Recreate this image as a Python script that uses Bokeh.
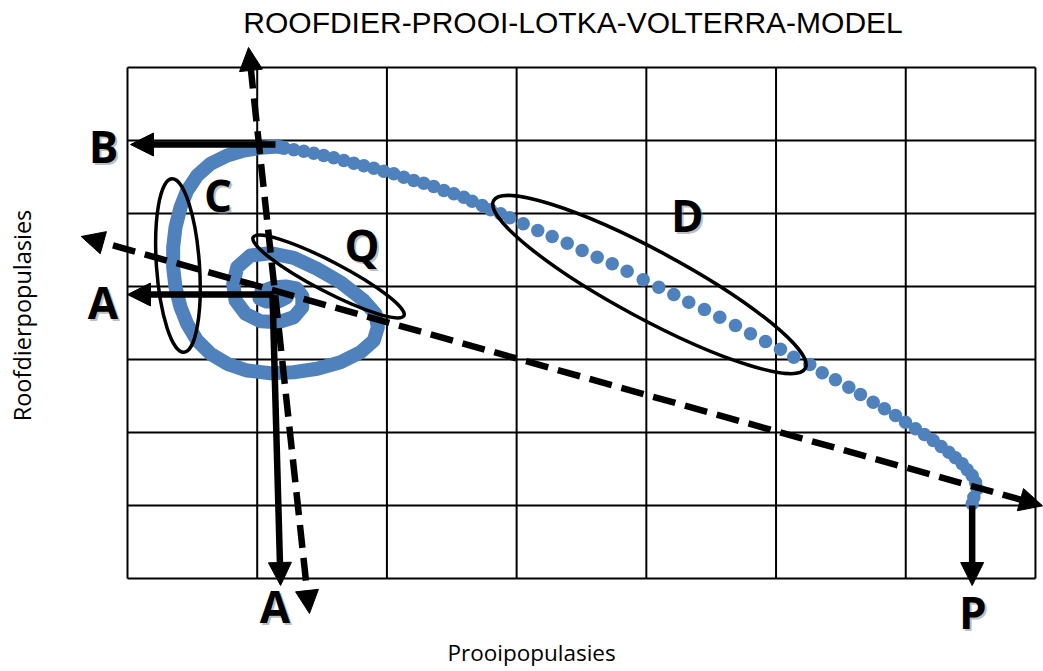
import math
from bokeh.plotting import figure
from bokeh.models import Range1d, Arrow, NormalHead
from bokeh.core.properties import value
from bokeh.embed import file_html
from bokeh.resources import INLINE

# ---------------- data ----------------
title_text = "ROOFDIER-PROOI-LOTKA-VOLTERRA-MODEL"
x_label = "Prooipopulasies"
y_label = "Roofdierpopulasies"

# 7 x 7 grid, 10 units per cell
grid_ticks = [0, 10, 20, 30, 40, 50, 60, 70]

# sparse (dotted) part of the trajectory, starting at P
dots_prey = [65.12, 65.25, 65.51, 65.38, 65.12, 64.74, 64.35, 63.83, 63.32, 62.73,
             62.12, 61.44, 60.75, 59.98, 59.21, 58.36, 57.49, 56.51, 55.61, 54.58,
             53.56, 52.60, 51.37, 50.34, 49.19, 48.03, 46.87, 45.66, 44.48, 43.27,
             42.12, 40.96, 39.76, 38.52, 37.37, 36.21, 35.05, 33.90, 32.74, 31.63,
             30.51, 29.47, 28.76, 27.99, 27.35, 26.57, 25.93, 25.16, 24.39, 23.61,
             22.84, 22.07, 21.30, 20.53, 19.76, 18.99, 18.22, 17.45, 16.68, 15.90,
             15.13, 14.36, 13.59, 12.82, 12.05]
dots_pred = [10.23, 11.14, 12.29, 13.19, 14.11, 14.89, 15.71, 16.53, 17.30, 18.08,
             18.90, 19.73, 20.51, 21.41, 22.33, 23.25, 24.15, 25.21, 26.21, 27.22,
             28.18, 29.32, 30.32, 31.41, 32.47, 33.52, 34.66, 35.79, 36.85, 37.85,
             38.90, 39.90, 40.92, 42.10, 43.11, 44.01, 44.93, 45.93, 46.85, 47.67,
             48.59, 49.41, 49.96, 50.51, 51.10, 51.68, 52.23, 52.70, 53.15, 53.70,
             54.15, 54.52, 54.97, 55.44, 55.79, 56.21, 56.53, 56.89, 57.26, 57.63,
             57.94, 58.26, 58.53, 58.73, 59.00]

# dense (spiral) part of the trajectory
spiral_prey = [12.05, 11.54, 10.25, 8.97, 7.69, 6.40, 5.37, 4.60, 4.09, 3.70,
               3.52, 3.52, 3.70, 4.09, 4.60, 5.37, 6.40, 7.69, 9.23, 11.02,
               12.82, 14.63, 16.42, 17.96, 18.99, 19.30, 19.12, 18.22, 16.42, 14.63,
               12.82, 11.02, 9.48, 8.46, 8.15, 8.33, 9.10, 10.25, 11.66, 12.82,
               13.47, 13.49, 13.03, 12.18, 11.18, 10.33, 10.18, 10.72, 11.64, 12.26,
               12.03, 11.49]
spiral_pred = [59.00, 59.18, 59.00, 58.63, 57.95, 56.81, 55.20, 53.15, 50.86, 48.12,
               45.38, 42.64, 39.90, 37.16, 34.89, 32.60, 30.78, 29.41, 28.49, 28.12,
               28.26, 28.73, 29.63, 31.00, 32.60, 34.42, 36.26, 38.08, 40.59, 42.42,
               43.93, 44.56, 44.25, 42.64, 40.37, 38.08, 36.26, 35.25, 35.11, 35.79,
               37.16, 38.63, 39.73, 40.00, 39.86, 39.32, 38.36, 37.95, 37.95, 38.49,
               39.18, 39.04]

# annotation arrows: start / end in data units
solid_x0 = [11.41, 11.26, 11.18, 65.12]
solid_y0 = [59.45, 38.90, 38.90, 10.00]
solid_x1 = [0.23, 0.00, 11.80, 65.12]
solid_y1 = [59.45, 38.90, -0.96, -0.96]

dashed_x0 = [14.03, -3.57]
dashed_y0 = [-4.79, 46.85]
dashed_x1 = [9.33, 70.55]
dashed_y1 = [72.74, 9.95]

# ellipses around regions C, Q, D
ell_x = [3.89, 15.50, 40.24]
ell_y = [42.88, 41.37, 40.27]
ell_angle = [94, -27.5, -28.3]

# letter markers
letters = ["B", "A", "C", "Q", "D", "A", "P"]
letter_x = [-1.85, -1.89, 6.98, 18.08, 43.15, 11.37, 65.18]
letter_y = [59.18, 37.88, 52.60, 45.75, 49.86, -3.77, -4.59]

# ---------------- figure ----------------
BLUE = "#4F81BD"
FONT = value("Open Sans")

p = figure(width=1043, height=671,
           x_range=Range1d(-9.791, 70.62), y_range=Range1d(-12.74, 79.18),
           output_backend="svg", toolbar_location=None,
           x_axis_location=None, y_axis_location=None,
           min_border=0, outline_line_color=None)
p.xgrid.visible = False
p.ygrid.visible = False
p.background_fill_color = "white"
p.border_fill_color = "white"

# grid
g0, g1 = grid_ticks[0], grid_ticks[-1]
n = len(grid_ticks)
p.segment(x0=grid_ticks, y0=[g0] * n, x1=grid_ticks, y1=[g1] * n,
          line_color="black", line_width=2)
p.segment(x0=[g0] * n, y0=grid_ticks, x1=[g1] * n, y1=grid_ticks,
          line_color="black", line_width=2)

# trajectory
p.line(spiral_prey, spiral_pred, line_color=BLUE, line_width=14,
       line_join="round", line_cap="round")
p.scatter(dots_prey, dots_pred, size=13.5, fill_color=BLUE, line_color=None)

# ellipses
p.ellipse(x=ell_x, y=ell_y, width=[174, 170, 354], height=[43, 30, 68],
          angle=ell_angle, angle_units="deg",
          width_units="screen", height_units="screen",
          fill_color=None, line_color="black", line_width=3.5)

# arrows
def head():
    return NormalHead(size=23, fill_color="black", line_color="black", line_width=1)

for i in range(len(solid_x0)):
    p.add_layout(Arrow(x_start=solid_x0[i], y_start=solid_y0[i],
                       x_end=solid_x1[i], y_end=solid_y1[i],
                       line_width=6.5, line_color="black", end=head()))
for i in range(len(dashed_x0)):
    p.add_layout(Arrow(x_start=dashed_x0[i], y_start=dashed_y0[i],
                       x_end=dashed_x1[i], y_end=dashed_y1[i],
                       line_width=6.5, line_color="black", line_dash="23 10",
                       start=head(), end=head()))

# letters (with soft shadow)
p.text(x=letter_x, y=letter_y, text=letters, text_font=FONT, text_font_size="44px",
       text_font_style="bold", text_align="center", text_baseline="middle",
       text_color="#808080", text_alpha=0.5, x_offset=2, y_offset=2)
p.text(x=letter_x, y=letter_y, text=letters, text_font=FONT, text_font_size="44px",
       text_font_style="bold", text_align="center", text_baseline="middle",
       text_color="black")

# title and axis labels
p.text(x=[34.35], y=[76.21], text=[title_text], text_font=value("Liberation Sans"),
       text_font_size="30px", text_align="center", text_baseline="middle",
       text_color="black")
p.text(x=[31.15], y=[-10.14], text=[x_label], text_font=FONT, text_font_size="22.5px",
       text_align="center", text_baseline="middle", text_color="black")
p.text(x=[-8.10], y=[36.03], text=[y_label], text_font=FONT, text_font_size="23.5px",
       text_align="center", text_baseline="middle", angle=math.pi / 2, text_color="black")

open("out.html", "w").write(file_html(p, INLINE))
